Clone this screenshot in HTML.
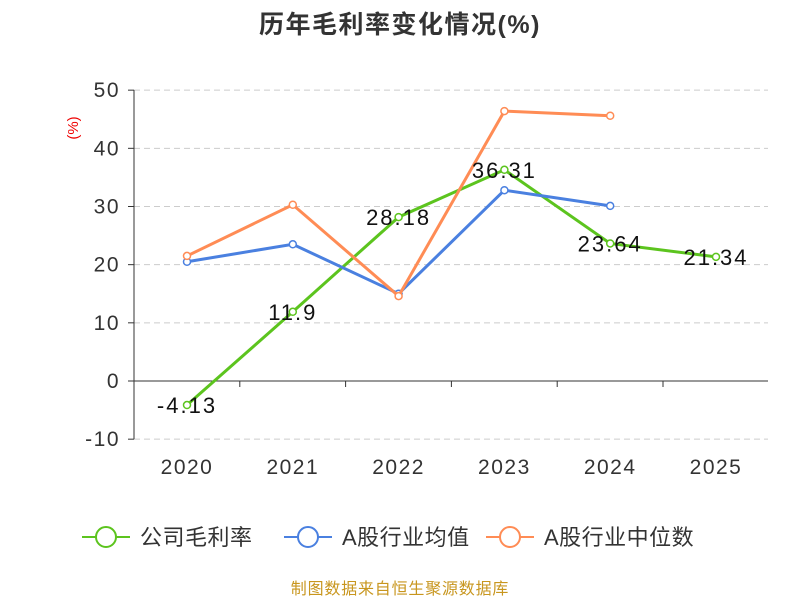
<!DOCTYPE html>
<html><head><meta charset="utf-8"><style>
body{margin:0;background:#fff;}
svg{font-family:"Liberation Sans","Noto Sans CJK SC",sans-serif;}
</style></head><body>
<svg id="c" width="800" height="600" xmlns="http://www.w3.org/2000/svg">
<text x="400" y="33" text-anchor="middle" font-size="25" font-weight="bold" letter-spacing="1.5" fill="#333">历年毛利率变化情况(%)</text>
<text x="78" y="128" text-anchor="middle" font-size="15" fill="#e00" transform="rotate(-90 78 128)">(%)</text>
<g id="grid"></g><g id="series"></g>
<text x="400" y="594" text-anchor="middle" font-size="16" letter-spacing="0.8" fill="#c8961e">制图数据来自恒生聚源数据库</text>
</svg>
<script>
const years=["2020","2021","2022","2023","2024","2025"];
const yTicks=[50,40,30,20,10,0,-10];
const company=[-4.13,11.9,28.18,36.31,23.64,21.34];
const industryAvg=[20.5,23.5,15.0,32.8,30.1,null];
const industryMedian=[21.5,30.3,14.6,46.4,45.6,null];
const names=["公司毛利率","A股行业均值","A股行业中位数"];
const colors=["#5cc41e","#4a80e0","#ff8c55"];
const NS="http://www.w3.org/2000/svg";
const svg=document.getElementById('c');
const X=i=>187+i*105.8;
const Y=v=>381-v*5.817;
function mk(t,a,p){const e=document.createElementNS(NS,t);for(const k in a)e.setAttribute(k,a[k]);(p||svg).appendChild(e);return e;}
const g=document.getElementById('grid');
yTicks.forEach(v=>{
  if(v!==0){const l=mk('line',{x1:134,x2:768,y1:Y(v),y2:Y(v),stroke:'#ccc','stroke-dasharray':'6,4'},g);
  
  }
  const t=mk('text',{x:120,y:Y(v)+7,'text-anchor':'end','font-size':21,'letter-spacing':1.5,fill:'#333'},g);t.textContent=v;
  
  
  const tk=mk('line',{x1:128,x2:134,y1:Y(v),y2:Y(v),stroke:'#333'},g);
  
  
});
const ya=mk('line',{x1:134,x2:134,y1:Y(50),y2:Y(-10),stroke:'#333'},g);


const xa=mk('line',{x1:134,x2:768,y1:Y(0),y2:Y(0),stroke:'#333'},g);


years.forEach((y,i)=>{
  const t=mk('text',{x:X(i),y:474,'text-anchor':'middle','font-size':21,'letter-spacing':1.5,fill:'#333'},g);t.textContent=y;
  
  
  const tk=mk('line',{x1:134+i*105.8,x2:134+i*105.8,y1:381,y2:387,stroke:'#333'},g);
  
  
});
const s=document.getElementById('series');
[company,industryAvg,industryMedian].forEach((d,k)=>{
  const pts=d.map((v,i)=>v==null?null:X(i)+','+Y(v)).filter(p=>p);
  const pl=mk('polyline',{points:pts.join(' '),fill:'none',stroke:colors[k],'stroke-width':3},s);
  
  
  d.forEach((v,i)=>{if(v==null)return;
    const c=mk('circle',{cx:X(i),cy:Y(v),r:3.5,fill:'#fff',stroke:colors[k],'stroke-width':1.5},s);
    
    
  });
});
company.forEach((v,i)=>{
  const t=mk('text',{x:X(i),y:Y(v)+8,'text-anchor':'middle','font-size':22,'letter-spacing':2,fill:'#111'},s);t.textContent=v;
  
  
});
const lx=[82,284,486];
names.forEach((n,k)=>{
  const l=mk('line',{x1:lx[k],x2:lx[k]+48,y1:537,y2:537,stroke:colors[k],'stroke-width':2});
  
  
  const c=mk('circle',{cx:lx[k]+24,cy:537,r:10,fill:'#fff',stroke:colors[k],'stroke-width':2});
  
  
  const t=mk('text',{x:lx[k]+58,y:545,'font-size':22,'letter-spacing':0.5,fill:'#333'});t.textContent=n;
  
  
});
</script>
</body></html>
